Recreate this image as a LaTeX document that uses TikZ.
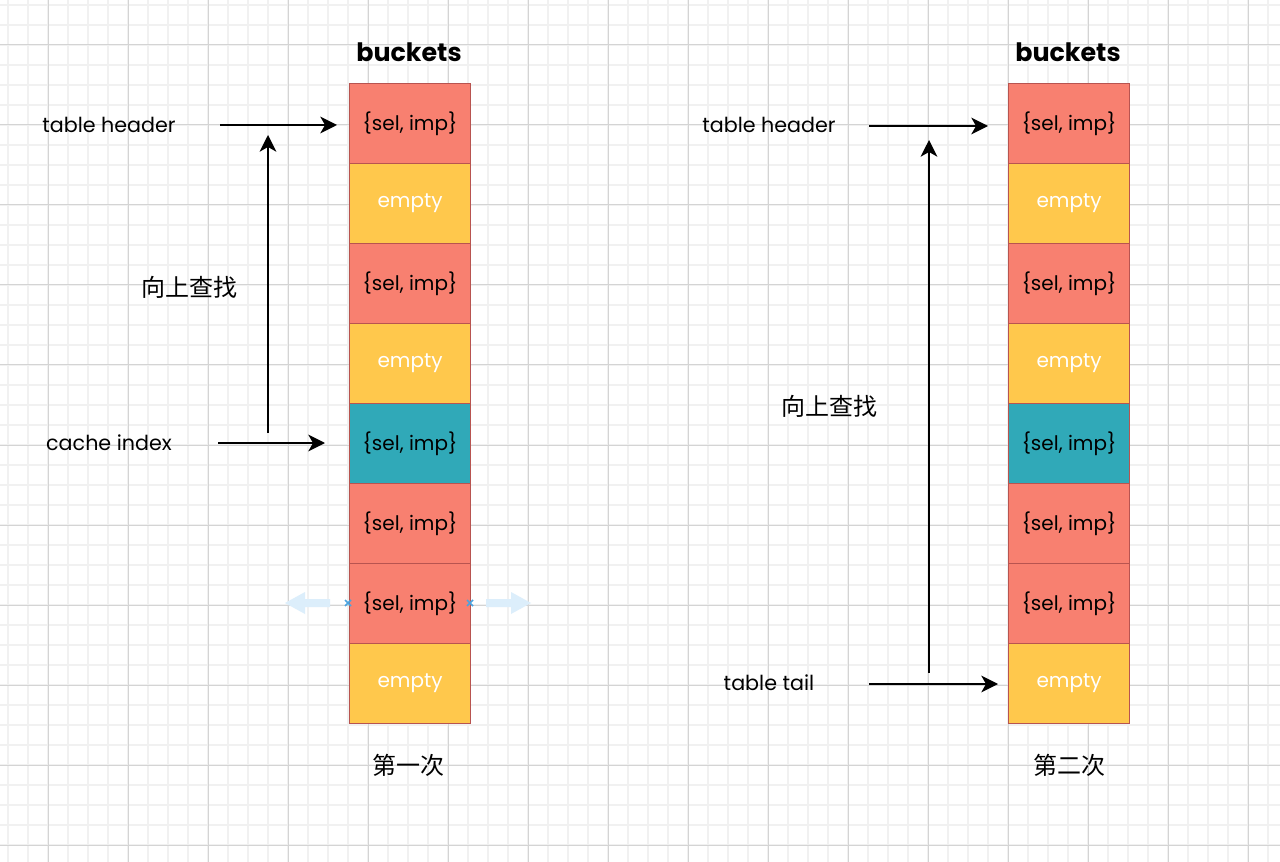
\documentclass[tikz,border=0pt]{standalone}
\usepackage{fontspec}
\setmainfont{Poppins}
\newfontfamily\cjk{Noto Sans CJK SC}
\usetikzlibrary{arrows.meta}
\definecolor{bred}{HTML}{F88070}
\definecolor{byel}{HTML}{FFC84C}
\definecolor{bteal}{HTML}{30A9B8}
\definecolor{bedge}{HTML}{B85450}
\definecolor{gmin}{HTML}{F1F1F1}
\definecolor{gmaj}{HTML}{D4D4D4}
\definecolor{selblue}{HTML}{DCEEFB}
\definecolor{selx}{HTML}{4AA3DF}
\begin{document}
\begin{tikzpicture}[x=0.75pt,y=-0.75pt,
 cell/.style={draw=bedge, line width=0.8pt, minimum width=90.75pt, minimum height=60pt, inner sep=0pt, font=\fontsize{15}{17}\selectfont, anchor=north west},
 full/.style={cell, fill=bred},
 emptyc/.style={cell, fill=byel, text=white},
 hit/.style={cell, fill=bteal},
 lab/.style={font=\fontsize{15.5}{17}\selectfont, inner sep=0pt},
 cn/.style={font=\cjk\fontsize{18}{20}\selectfont, inner sep=0pt},
 head/.style={font=\bfseries\fontsize{19}{21}\selectfont, inner sep=0pt},
 arr/.style={draw, line width=1.5pt, -{Stealth[length=12.5pt,width=12.5pt,inset=3.5pt]}},
]
\useasboundingbox[fill=white] (0,0) rectangle (1280,862);
% grid
\foreach \x in {8,28,...,1280} \draw[gmin, line width=1pt] (\x,0) -- (\x,862);
\foreach \y in {5,25,...,862} \draw[gmin, line width=1pt] (0,\y) -- (1280,\y);
\foreach \x in {48,128,...,1280} \draw[gmaj, line width=0.75pt] (\x,0) -- (\x,862);
\foreach \y in {45,125,...,862} \draw[gmaj, line width=0.75pt] (0,\y) -- (1280,\y);

% left column
\node[full]   (L1) at (349,83)  {\{sel, imp\}};
\node[emptyc] (L2) at (349,163) {empty};
\node[full]   (L3) at (349,243) {\{sel, imp\}};
\node[emptyc] (L4) at (349,323) {empty};
\node[hit]    (L5) at (349,403) {\{sel, imp\}};
\node[full]   (L6) at (349,483) {\{sel, imp\}};
\node[full]   (L7) at (349,563) {\{sel, imp\}};
\node[emptyc] (L8) at (349,643) {empty};
% right column
\node[full]   (R1) at (1008,83)  {\{sel, imp\}};
\node[emptyc] (R2) at (1008,163) {empty};
\node[full]   (R3) at (1008,243) {\{sel, imp\}};
\node[emptyc] (R4) at (1008,323) {empty};
\node[hit]    (R5) at (1008,403) {\{sel, imp\}};
\node[full]   (R6) at (1008,483) {\{sel, imp\}};
\node[full]   (R7) at (1008,563) {\{sel, imp\}};
\node[emptyc] (R8) at (1008,643) {empty};

\node[head] (bL) at (409,52) {buckets};
\node[head] (bR) at (1068,52) {buckets};
\node[cn] (c1) at (408,765) {第一次};
\node[cn] (c2) at (1069,765) {第二次};

% left labels and arrows
\node[lab] (lth) at (109,125) {table header};
\node[lab] (lci) at (109,443) {cache index};
\node[cn]  (lup) at (189,287) {向上查找};
\coordinate (a1s) at (220,125);
\coordinate (a2s) at (218,443);
\coordinate (v1s) at (268,433);
\coordinate (v1e) at (268,135);
\draw[arr, shorten >=9pt] (a1s) -- (L1.west |- a1s);
\draw[arr, shorten >=18pt] (a2s) -- (L5.west |- a2s);
\draw[arr] (v1s) -- (v1e);

% right labels and arrows
\node[lab] (rth) at (769,125) {table header};
\node[lab] (rtt) at (769,683) {table tail};
\node[cn]  (rup) at (829,406) {向上查找};
\coordinate (b1s) at (869,126);
\coordinate (b2s) at (869,684);
\coordinate (v2s) at (929,673);
\coordinate (v2e) at (929,140);
\draw[arr, shorten >=15pt] (b1s) -- (R1.west |- b1s);
\draw[arr, shorten >=7.5pt] (b2s) -- (R8.west |- b2s);
\draw[arr] (v2s) -- (v2e);

% selection handles on L7
\fill[selblue] (330,599) -- (305,599) -- (305,592) -- (285,603) -- (305,614) -- (305,607) -- (330,607) -- cycle;
\fill[selblue] (486,599) -- (511,599) -- (511,592) -- (531,603) -- (511,614) -- (511,607) -- (486,607) -- cycle;
\draw[selx, line width=1.1pt] (345,600) -- (351,606) (345,606) -- (351,600);
\draw[selx, line width=1.1pt] (467,600) -- (473,606) (467,606) -- (473,600);
\end{tikzpicture}
\end{document}
